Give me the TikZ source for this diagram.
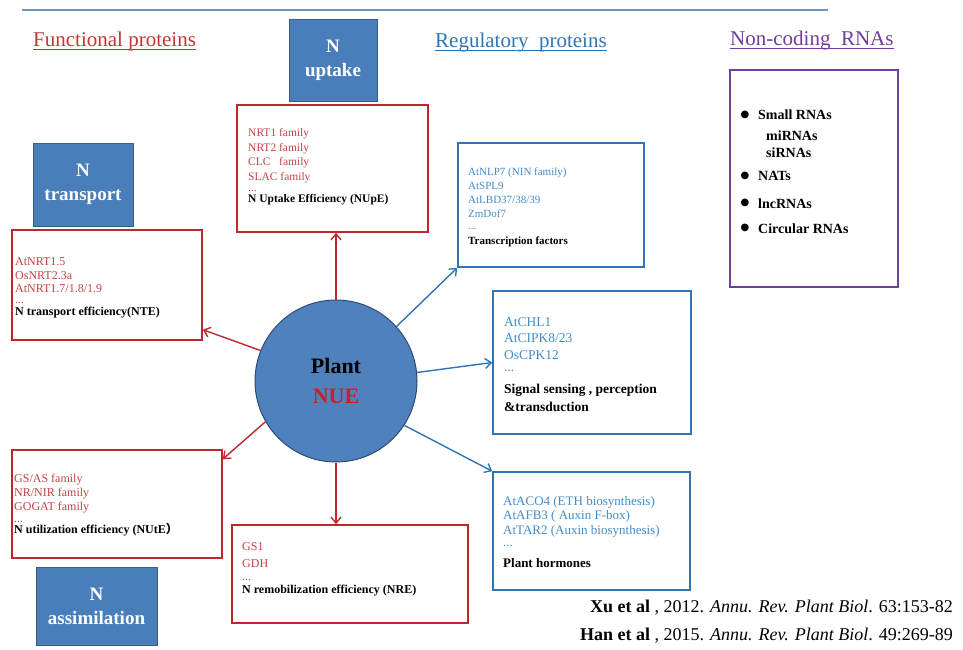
\documentclass[tikz,border=0pt]{standalone}
\usepackage{fontspec}
\setmainfont{Liberation Serif}
\newfontfamily\symfont{DejaVu Sans}
\newfontfamily\cjkfont{Noto Sans CJK SC}
\usepackage{xcolor}
\usetikzlibrary{arrows.meta, positioning}
\definecolor{funcred}{RGB}{192,38,46}
\definecolor{funcline}{RGB}{196,52,52}
\definecolor{redtext}{RGB}{198,66,66}
\definecolor{nuered}{RGB}{204,30,40}
\definecolor{regblue}{RGB}{46,117,182}
\definecolor{bluetext}{RGB}{66,140,200}
\definecolor{ncpurple}{RGB}{112,60,160}
\definecolor{sqfill}{RGB}{74,126,187}
\definecolor{sqedge}{RGB}{56,93,138}
\definecolor{circfill}{RGB}{79,129,189}
\definecolor{circedge}{RGB}{45,75,115}
\definecolor{topline}{RGB}{110,150,185}
\newcommand{\setfs}[2]{\fontsize{#1}{#2}\selectfont}

\begin{document}
\begin{tikzpicture}[x=1pt, y=-1pt, >={Straight Barb[length=6pt,width=10pt]},
    nsq/.style={rectangle, draw=sqedge, fill=sqfill, line width=1pt, inner sep=0pt, text=white, font=\bfseries\setfs{19}{24}, align=center},
    redbox/.style={rectangle, draw=funcred, line width=1.6pt, inner sep=0pt},
    bluebox/.style={rectangle, draw=regblue, line width=1.6pt, inner sep=0pt},
    ncbox/.style={rectangle, draw=ncpurple, line width=1.6pt, inner sep=0pt},
    boxtxt/.style={anchor=north west, inner sep=0pt, align=left},
    hdr/.style={anchor=base west, inner sep=0pt, font=\setfs{21}{25}},
    redarr/.style={->, draw=funcred, line width=1.4pt},
    bluearr/.style={->, draw=regblue, line width=1.4pt}]
    \useasboundingbox (0,0) rectangle (963,650);

    \draw[topline, line width=1.8pt] (22,10) -- (828,10);

    \node[hdr, text=funcline] (fp) at (33,47) {Functional proteins};
    \node[hdr, text=regblue] (rp) at (435,48) {Regulatory\ \ proteins};
    \node[hdr, text=ncpurple] (ncp) at (730,45.5) {Non-coding\ \ RNAs};
    \draw[funcline, line width=1pt] ([yshift=-3pt]fp.base west) -- ([yshift=-3pt]fp.base east);
    \draw[regblue, line width=1pt] ([yshift=-3pt]rp.base west) -- ([yshift=-3pt]rp.base east);
    \draw[ncpurple, line width=1pt] ([yshift=-3pt]ncp.base west) -- ([yshift=-3pt]ncp.base east);

    \node[nsq, minimum width=88pt, minimum height=82pt] (upsq) at (333,60.5) {N\\uptake};
    \node[nsq, minimum width=100pt, minimum height=83pt] (trsq) at (83,184.5) {N\\transport};
    \node[nsq, minimum width=121pt, minimum height=78pt] (assq) at (96.5,606) {N\\assimilation};

    \node[circle, draw=circedge, fill=circfill, line width=1pt, minimum size=162pt, inner sep=0pt, align=center, font=\bfseries\setfs{22}{30}] (plant) at (336,381) {Plant\\\textcolor{nuered}{NUE}};

    \node[redbox, minimum width=191pt, minimum height=127pt] (nupe) at (332.5,168.5) {};
    \node[redbox, minimum width=190pt, minimum height=110pt] (nte) at (107,285) {};
    \node[redbox, minimum width=210pt, minimum height=108pt] (nute) at (117,504) {};
    \node[redbox, minimum width=236pt, minimum height=98pt] (nre) at (350,574) {};
    \node[bluebox, minimum width=186pt, minimum height=124pt] (tf) at (551,205) {};
    \node[bluebox, minimum width=198pt, minimum height=143pt] (sig) at (592,362.5) {};
    \node[bluebox, minimum width=197pt, minimum height=118pt] (horm) at (591.5,531) {};
    \node[ncbox, minimum width=168pt, minimum height=217pt] (nc) at (814,178.5) {};

    \node[boxtxt, text=redtext, font=\setfs{11.5}{14.5}] (nupetxt) at (248,128.7) {NRT1 family\\NRT2 family\\CLC\ \ \ family\\SLAC family\\[-3.8pt]...\\[-3pt]\textcolor{black}{\textbf{N Uptake Efficiency (NUpE)}}};
    \node[boxtxt, text=redtext, font=\setfs{12}{13.3}] (ntetxt) at (15,257.6) {AtNRT1.5\\OsNRT2.3a\\AtNRT1.7/1.8/1.9\\[-2.3pt]...\\[-1.3pt]\textcolor{black}{\textbf{N transport efficiency(NTE)}}};
    \node[boxtxt, text=redtext, font=\setfs{12}{14}] (nutetxt) at (14,473.6) {GS/AS family\\NR/NIR family\\GOGAT family\\[-2pt]...\\[-2.3pt]\textcolor{black}{\textbf{N utilization efficiency (NUtE{\cjkfont ）}}}};
    \node[boxtxt, text=redtext, font=\setfs{12}{16.5}] (nretxt) at (242,542.6) {GS1\\GDH\\[-3.3pt]...\\[-3.2pt]\textcolor{black}{\textbf{N remobilization efficiency (NRE)}}};

    \node[boxtxt, text=bluetext, font=\setfs{11}{13.7}] (tftxt) at (468,168) {AtNLP7 (NIN family)\\AtSPL9\\AtLBD37/38/39\\ZmDof7\\[-0.8pt]...\\[1.3pt]\textcolor{black}{\textbf{Transcription factors}}};
    \node[boxtxt, text=bluetext, font=\setfs{13.5}{16.5}] (sigtxt) at (504,317.3) {AtCHL1\\AtCIPK8/23\\OsCPK12\\[-4pt]...\\[5pt]\textcolor{black}{\textbf{Signal sensing , perception}}\\[1.2pt]\textcolor{black}{\textbf{\&transduction}}};
    \node[boxtxt, text=bluetext, font=\setfs{13}{14.2}] (hormtxt) at (503,496.5) {AtACO4 (ETH biosynthesis)\\AtAFB3 ( Auxin F-box)\\AtTAR2 (Auxin biosynthesis)\\[-2pt]...\\[6.8pt]\textcolor{black}{\textbf{Plant hormones}}};

    \foreach \y/\t [count=\i] in {115/Small RNAs, 176/NATs, 203.3/lncRNAs, 228.3/Circular RNAs} {
        \node[inner sep=0pt, font=\symfont\setfs{10}{12}] (bul\i) at (745,\y) {●};
        \node[anchor=west, inner sep=0pt, font=\bfseries\setfs{14}{16}] (ncl\i) at (758,\y) {\t};
    }
    \node[boxtxt, font=\bfseries\setfs{14}{16.3}] (ncsub) at (766,131) {miRNAs\\siRNAs};

    \draw[redarr] (plant.north) -- (plant.north |- nupe.south);
    \draw[redarr] (plant.south) -- (plant.south |- nre.north);
    \draw[redarr] (plant.158) -- (nte.-25);
    \draw[redarr] (plant.210) -- (nute.23);
    \draw[bluearr] (plant.42) -- (tf.south west);
    \draw[bluearr] (plant.6) -- (sig.west);
    \draw[bluearr] (plant.-33) -- (horm.north west);

    \node[anchor=base east, inner sep=0pt, font=\setfs{18}{20}] (cite1) at (953,612) {\textbf{Xu et al} , 2012. \textit{Annu. Rev. Plant Biol}. 63:153-82};
    \node[anchor=base east, inner sep=0pt, font=\setfs{18}{20}] (cite2) at (953,640) {\textbf{Han et al} , 2015. \textit{Annu. Rev. Plant Biol}. 49:269-89};
\end{tikzpicture}
\end{document}
